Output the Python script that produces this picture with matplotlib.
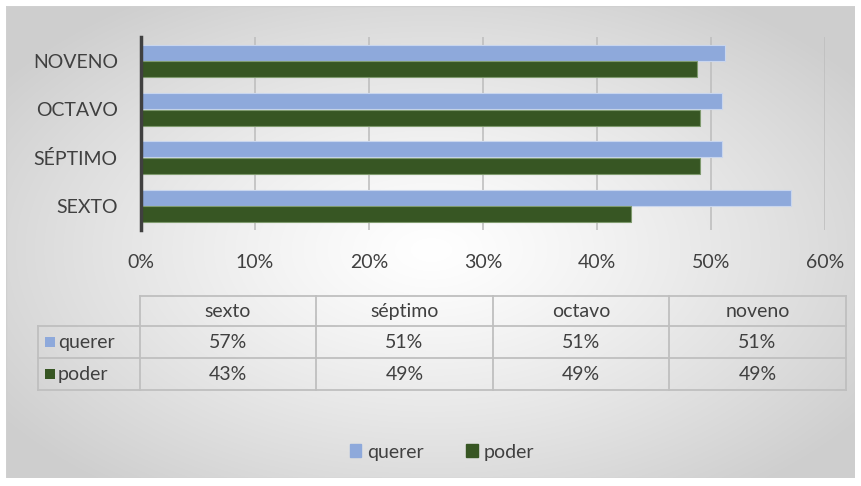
import numpy as np
import matplotlib
matplotlib.use("Agg")
import matplotlib.pyplot as plt
from matplotlib.patches import Rectangle

categories = ["SEXTO", "SÉPTIMO", "OCTAVO", "NOVENO"]
table_cols = ["sexto", "séptimo", "octavo", "noveno"]
series_names = ["querer", "poder"]
querer = [0.57, 0.51, 0.51, 0.512]
poder = [0.43, 0.49, 0.49, 0.488]
table_querer = ["57%", "51%", "51%", "51%"]
table_poder = ["43%", "49%", "49%", "49%"]
xticks = [0, 0.1, 0.2, 0.3, 0.4, 0.5, 0.6]
xticklabels = ["0%", "10%", "20%", "30%", "40%", "50%", "60%"]

C_Q = "#8EA9DB"
C_P = "#375623"
TXT = "#404040"
GRID = "#BFBFBF"
FONT = ["Lato", "DejaVu Sans"]
plt.rcParams['font.family'] = FONT

W, H = 862, 486
fig = plt.figure(figsize=(W / 100, H / 100), dpi=100)

def fx(px):
    return px / W

def fy(py):
    return 1 - py / H

# background gradient
bg = fig.add_axes([0, 0, 1, 1], zorder=-10)
yy, xx = np.mgrid[0:H, 0:W]
r = np.sqrt(((xx - 431) / 520.0) ** 2 + ((yy - 250) / 300.0) ** 2)
g = 1.0 - 0.19 * np.clip(r, 0, 1) ** 1.2
img = np.dstack([g, g, g])
bg.imshow(img, extent=[0, W, H, 0], aspect="auto")
bg.add_patch(Rectangle((6, 6), 849, 472, fill=False, edgecolor="#D0D0D0", lw=1))
bg.add_patch(Rectangle((0, 0), W, 6, color="white", lw=0))
bg.add_patch(Rectangle((0, 478), W, 8, color="white", lw=0))
bg.add_patch(Rectangle((0, 0), 6, H, color="white", lw=0))
bg.add_patch(Rectangle((855, 0), 7, H, color="white", lw=0))
bg.set_xlim(0, W)
bg.set_ylim(H, 0)
bg.axis("off")

# main bar chart
left, right, top, bottom = 140.7, 825.0, 37.0, 230.0
ax = fig.add_axes([fx(left), fy(bottom), fx(right - left), (bottom - top) / H])
ax.patch.set_alpha(0)
y = np.arange(len(categories))
bh = 0.33
ax.barh(y + bh / 2 + 0.005, querer, height=bh, color=C_Q, edgecolor="#C9D6EE", lw=0.8, zorder=3)
ax.barh(y - bh / 2 - 0.005, poder, height=bh, color=C_P, edgecolor="#7F9A6E", lw=0.8, zorder=3)
ax.set_xlim(0, 0.6)
ax.set_ylim(-0.5, len(categories) - 0.5)
ax.set_xticks(xticks)
ax.set_xticklabels(xticklabels)
ax.set_yticks(y)
ax.set_yticklabels(categories)
fs = 14
ax.tick_params(axis="both", length=0, labelsize=fs, colors=TXT)
ax.tick_params(axis="x", pad=17)
ax.tick_params(axis="y", pad=16.5)
for xv in xticks[1:]:
    ax.axvline(xv, color=GRID, lw=1.2, zorder=1)
for s in ["top", "right", "bottom"]:
    ax.spines[s].set_visible(False)
ax.spines["left"].set_color("#404040")
ax.spines["left"].set_linewidth(2.5)
ax.spines["left"].set_zorder(4)

# data table
cols_x = [140, 316, 493, 669, 846]
rows_y = [296, 326, 358, 390]
lab_x0 = 38
ta = fig.add_axes([0, 0, 1, 1], zorder=5)
ta.set_xlim(0, W)
ta.set_ylim(H, 0)
ta.axis("off")
lk = dict(color=GRID, lw=1.3)
ta.plot([cols_x[0], cols_x[-1]], [rows_y[0], rows_y[0]], **lk)
for ry in rows_y[1:]:
    ta.plot([lab_x0, cols_x[-1]], [ry, ry], **lk)
for cx in cols_x:
    ta.plot([cx, cx], [rows_y[0], rows_y[-1]], **lk)
ta.plot([lab_x0, lab_x0], [rows_y[1], rows_y[-1]], **lk)
for i, name in enumerate(table_cols):
    cx = (cols_x[i] + cols_x[i + 1]) / 2
    ta.text(cx, (rows_y[0] + rows_y[1]) / 2, name, ha="center", va="center", fontsize=fs, color=TXT)
for r_i, (nm, col, vals) in enumerate(zip(series_names, [C_Q, C_P], [table_querer, table_poder])):
    cy = (rows_y[r_i + 1] + rows_y[r_i + 2]) / 2
    ta.add_patch(Rectangle((45, cy - 5), 10, 10, color=col, lw=0))
    ta.text(58, cy, nm, ha="left", va="center", fontsize=fs, color=TXT)
    for i, v in enumerate(vals):
        cx = (cols_x[i] + cols_x[i + 1]) / 2
        ta.text(cx, cy, v, ha="center", va="center", fontsize=fs, color=TXT)

# legend
handles = [Rectangle((0, 0), 1, 1, color=C_Q), Rectangle((0, 0), 1, 1, color=C_P)]
fig.legend(handles, series_names, loc="center", bbox_to_anchor=(fx(442), fy(452)),
           ncol=2, frameon=False, fontsize=fs, handlelength=0.6, handleheight=0.6,
           handletextpad=0.3, columnspacing=2.2, labelcolor=TXT)

fig.savefig("out.png", dpi=100)
